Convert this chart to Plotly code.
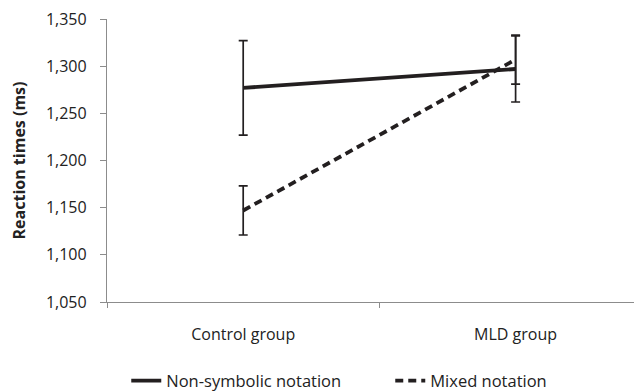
import plotly.graph_objects as go

groups = ["Control group", "MLD group"]
non_symbolic = [1277, 1297]
non_symbolic_err = [50, 35]
mixed = [1147, 1307]
mixed_err = [26, 26]
y_ticks = [1050, 1100, 1150, 1200, 1250, 1300, 1350]
y_ticklabels = ["1,050", "1,100", "1,150", "1,200", "1,250", "1,300", "1,350"]

ink = "#231f20"
axis_col = "#8c8c8c"
font = "Open Sans"
xpos = list(range(len(groups)))

fig = go.Figure()
fig.add_trace(go.Scatter(
    x=xpos, y=non_symbolic, mode="lines", name="Non-symbolic notation",
    line=dict(color=ink, width=3.8),
    error_y=dict(type="data", array=non_symbolic_err, color=ink, thickness=1.7, width=4.5),
))
fig.add_trace(go.Scatter(
    x=xpos, y=mixed, mode="lines", name="Mixed notation",
    line=dict(color=ink, width=3.8, dash="8px,5px"),
    error_y=dict(type="data", array=mixed_err, color=ink, thickness=1.7, width=4.5),
))

# the page body keeps an 8px default margin, so the figure is 8px smaller each way
fig.update_layout(
    width=634, height=383,
    margin=dict(l=99, r=0, t=11, b=89, autoexpand=False),
    paper_bgcolor="white", plot_bgcolor="white",
    font=dict(family=font, size=16, color="#222"),
    showlegend=True,
    legend=dict(orientation="h", x=0.036, xanchor="left", y=-0.279, yanchor="middle",
                font=dict(size=16.5, family=font), tracegroupgap=0, entrywidth=219,
                entrywidthmode="pixels"),
)
fig.update_xaxes(
    range=[-0.5, 1.464], tickmode="array", tickvals=xpos, ticktext=groups,
    ticks="", showgrid=False, zeroline=False,
    showline=True, linecolor=axis_col, linewidth=1.3,
    ticklabelstandoff=18, automargin=False,
    minor=dict(tick0=0.5, dtick=1, ticks="outside", ticklen=5, tickcolor=axis_col, tickwidth=1.3),
    tickfont=dict(size=16),
)
fig.update_yaxes(
    range=[1050, 1350], tickmode="array", tickvals=y_ticks, ticktext=y_ticklabels,
    ticks="outside", ticklen=6, tickcolor=axis_col, tickwidth=1.3,
    showgrid=False, zeroline=False, automargin=False,
    showline=True, linecolor=axis_col, linewidth=1.3,
    ticklabelstandoff=10, ticklabeloverflow="allow",
    title=dict(text="<b>Reaction times (ms)</b>", font=dict(size=16), standoff=19),
    tickfont=dict(size=16),
)

fig.write_html("out.html")
